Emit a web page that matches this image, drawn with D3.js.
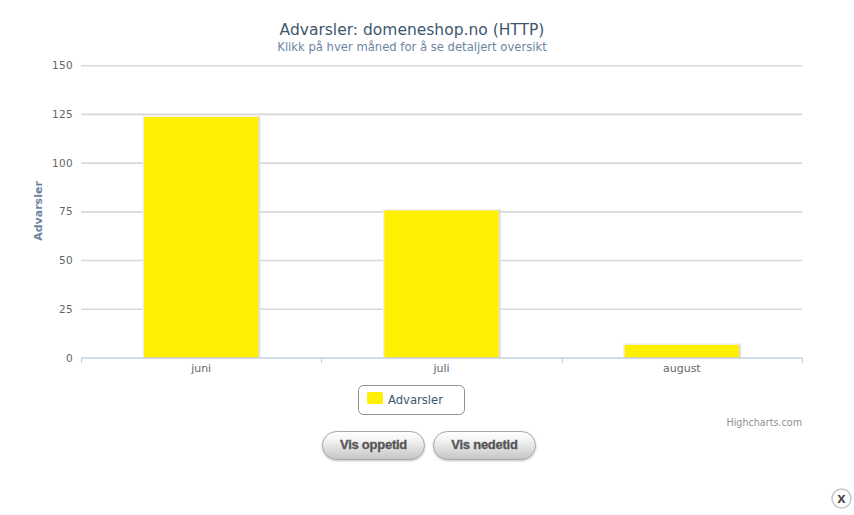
<!DOCTYPE html>
<html><head><meta charset="utf-8">
<script src="https://cdn.jsdelivr.net/npm/d3@7/dist/d3.min.js"></script>
<style>html,body{margin:0;padding:0;background:#fff;overflow:hidden}svg{display:block}text{font-family:"DejaVu Sans",sans-serif}</style>
</head><body><svg id="c" width="854" height="515"></svg>
<script>
const categories=["juni","juli","august"];
const seriesName="Advarsler";
const values=[124,76,7];
const yTicks=[0,25,50,75,100,125,150];
const titleText="Advarsler: domeneshop.no (HTTP)";
const subtitleText="Klikk på hver måned for å se detaljert oversikt";
const creditText="Highcharts.com";
const buttonLabels=["Vis oppetid","Vis nedetid"];

const svg=d3.select("#c");
const defs=svg.append("defs");
const g=defs.append("linearGradient").attr("id","btn").attr("x1",0).attr("y1",0).attr("x2",0).attr("y2",1);
g.append("stop").attr("offset","0").attr("stop-color","#ffffff");
g.append("stop").attr("offset","0.3").attr("stop-color","#f4f4f4");
g.append("stop").attr("offset","1").attr("stop-color","#c4c4c4");
const f=defs.append("filter").attr("id","sh").attr("x","-10%").attr("y","-20%").attr("width","120%").attr("height","150%");
f.append("feDropShadow").attr("dx",0).attr("dy",1).attr("stdDeviation",1).attr("flood-color","#000").attr("flood-opacity",.25);
const L=81,R=802,T=65.7,B=358;
const x=d3.scaleBand().domain(categories).range([L,R]);
const y=d3.scaleLinear().domain([0,150]).range([B,T]);

svg.append("g").selectAll("line").data(yTicks.filter(d=>d>0)).join("line")
 .attr("x1",L).attr("x2",R).attr("y1",d=>y(d)).attr("y2",d=>y(d))
 .attr("stroke","#d8d8d8").attr("stroke-width",1.6);

svg.append("g").selectAll("text").data(yTicks).join("text")
 .attr("x",73).attr("y",d=>y(d)+3.5).attr("text-anchor","end").attr("font-size",10.5).attr("fill","#666").attr("letter-spacing",.35).text(d=>d);

const bw=x.bandwidth()*0.48;
const bx=d=>x(d)+x.bandwidth()/2-bw/2+.5;
const by=i=>y(values[i])+.5;
const bars=svg.append("g").selectAll("g").data(categories).join("g");
bars.append("rect").attr("x",d=>bx(d)-1.5).attr("width",bw+2)
 .attr("y",(d,i)=>by(i)-1.5).attr("height",(d,i)=>B-by(i)+1.5).attr("fill","#eeeef5");
bars.append("rect").attr("x",d=>bx(d)+bw-1).attr("width",2)
 .attr("y",(d,i)=>by(i)-1).attr("height",(d,i)=>B-by(i)+1).attr("fill","#dcdce4");
bars.append("rect").attr("x",d=>bx(d)).attr("width",bw-1)
 .attr("y",(d,i)=>by(i)).attr("height",(d,i)=>B-by(i)).attr("fill","#ffef00");

svg.append("line").attr("x1",L).attr("x2",R).attr("y1",358).attr("y2",358).attr("stroke","#c0d0e0").attr("stroke-width",1.6);
const edges=[...categories.map(d=>x(d)),R];
svg.append("g").selectAll("line").data(edges).join("line")
 .attr("x1",d=>Math.round(d)+.5).attr("x2",d=>Math.round(d)+.5).attr("y1",358).attr("y2",363)
 .attr("stroke","#c0d0e0");
svg.append("g").selectAll("text").data(categories).join("text")
 .attr("x",d=>x(d)+x.bandwidth()/2).attr("y",372).attr("text-anchor","middle").attr("font-size",11).attr("fill","#666").text(d=>d);

svg.append("text").attr("transform","translate(42,211) rotate(-90)").attr("text-anchor","middle")
 .attr("font-size",11).attr("font-weight","bold").attr("fill","#6d869f").text(seriesName);
svg.append("text").attr("x",412).attr("y",35).attr("text-anchor","middle").attr("font-size",15.5).attr("fill","#3e576f").text(titleText);
svg.append("text").attr("x",412).attr("y",51).attr("text-anchor","middle").attr("font-size",11.6).attr("fill","#6d869f").text(subtitleText);

svg.append("rect").attr("x",358.5).attr("y",385.5).attr("width",106).attr("height",29).attr("rx",5).attr("fill","#fff").attr("stroke","#909090");
svg.append("rect").attr("x",367).attr("y",392).attr("width",16).attr("height",12).attr("rx",2).attr("fill","#ffef00");
svg.append("text").attr("x",388).attr("y",404).attr("font-size",11.6).attr("fill","#3e576f").text(seriesName);

svg.append("text").attr("x",802).attr("y",426).attr("text-anchor","end").attr("font-size",9.6).attr("fill","#909090").text(creditText);

const btnX=[322,433];
const btn=svg.append("g").selectAll("g").data(buttonLabels).join("g");
btn.append("rect").attr("x",(d,i)=>btnX[i]+.5).attr("y",431.5).attr("width",102).attr("height",28).attr("rx",14)
 .attr("fill","url(#btn)").attr("stroke","#a8a8a8").attr("filter","url(#sh)");
btn.append("text").attr("x",(d,i)=>btnX[i]+51.5).attr("y",449).attr("text-anchor","middle")
 .style("font-family","'Liberation Sans'").attr("font-size",13).attr("letter-spacing",-.25).attr("font-weight","bold").attr("fill","#555").attr("stroke","#555").attr("stroke-width",.3).text(d=>d);

svg.append("circle").attr("cx",841.5).attr("cy",498.5).attr("r",9.5).attr("fill","#fff").attr("stroke","#c8c8c8").attr("stroke-width",1.6);
svg.append("text").attr("x",841.5).attr("y",503).attr("text-anchor","middle").style("font-family","'Liberation Sans'").attr("font-size",15).attr("font-weight","bold").attr("fill","#444").text("x");
</script></body></html>
